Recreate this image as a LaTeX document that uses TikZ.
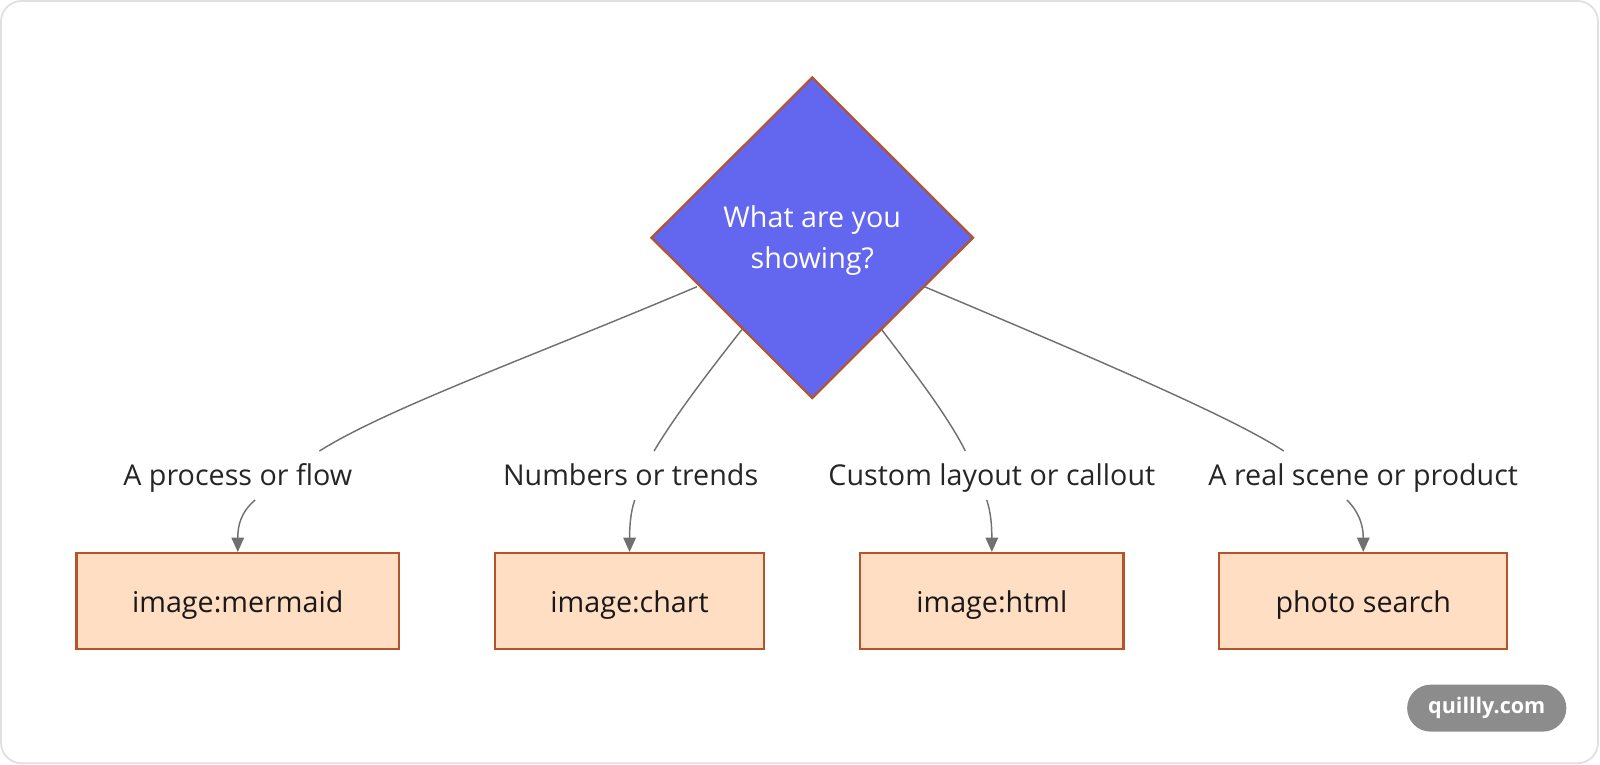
\documentclass[tikz,border=0pt]{standalone}
\usepackage{fontspec}
\setmainfont{Open Sans}
\usetikzlibrary{shapes.geometric,arrows.meta}
\definecolor{dia}{HTML}{6366EE}
\definecolor{brd}{HTML}{B5532A}
\definecolor{boxf}{HTML}{FFDEC4}
\definecolor{edg}{HTML}{707070}
\begin{document}
\begin{tikzpicture}[x=0.02cm,y=-0.02cm,
  box/.style={draw=brd,line width=1.2pt,fill=boxf,minimum width=#1*0.02cm,minimum height=1.88cm,font=\fontsize{16}{18}\selectfont,inner sep=0pt,text=black!90},
  btxt/.style={anchor=base,font=\fontsize{16}{18}\selectfont,inner sep=0pt,text=black!90},
  lab/.style={anchor=base,font=\fontsize{16}{18}\selectfont,inner sep=0pt,text=black!85},
  edge/.style={draw=edg,line width=0.8pt},
  arr/.style={edge,-{Triangle[length=8pt,width=7pt]}}]
\useasboundingbox (0,0) rectangle (1568,749);
\draw[black!12,line width=1pt,fill=white,rounded corners=0.4cm] (1,1) rectangle (1566,748);
\node[diamond,draw=brd,line width=1.2pt,fill=dia,minimum width=316*0.02cm,minimum height=315*0.02cm,inner sep=0pt] (d) at (796,233) {};
\node[text=white,align=center,font=\fontsize{16}{23}\selectfont,inner sep=0pt] (dt) at (796,236) {What are you\\showing?};
\node[box=316] (b1) at (233,589) {};
\node[box=264] (b2) at (617,589) {};
\node[box=258] (b3) at (972,589) {};
\node[box=282] (b4) at (1336,589) {};
\node[btxt] (t1) at (233,600) {image:mermaid};
\node[btxt] (t2) at (617,600) {image:chart};
\node[btxt] (t3) at (972,600) {image:html};
\node[btxt] (t4) at (1336,600) {photo search};
\node[lab] (l1) at (233,476) {A process or flow};
\node[lab] (l2) at (618,476) {Numbers or trends};
\node[lab] (l3) at (972,476) {Custom layout or callout};
\node[lab] (l4) at (1336,476) {A real scene or product};
\coordinate (e1) at (313,442); \coordinate (e2) at (641,442);
\coordinate (e3) at (946,442); \coordinate (e4) at (1258,442);
\draw[edge] (683,281) .. controls (520,350) and (380,400) .. (e1);
\draw[edge] (727,323) .. controls (690,370) and (660,410) .. (e2);
\draw[edge] (864,323) .. controls (900,370) and (930,410) .. (e3);
\draw[edge] (906,281) .. controls (1070,350) and (1210,410) .. (e4);
\draw[arr] (250,490) .. controls (236,502) and (233,515) .. (b1.north);
\draw[arr] (622,490) .. controls (618,502) and (617,515) .. (b2.north);
\draw[arr] (967,490) .. controls (971,502) and (972,515) .. (b3.north);
\draw[arr] (1320,490) .. controls (1332,502) and (1336,515) .. (b4.north);
\node[fill=black!45,text=white,rounded corners=0.46cm,minimum width=156*0.02cm,minimum height=46*0.02cm,font=\fontsize{12}{13}\selectfont\bfseries] (q) at (1457,694) {quillly.com};
\end{tikzpicture}
\end{document}
